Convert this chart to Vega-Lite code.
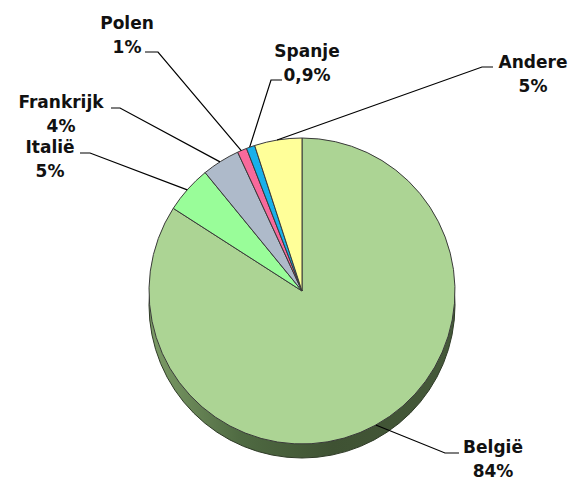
{
  "$schema": "https://vega.github.io/schema/vega-lite/v6.json",
  "width": 582,
  "height": 480,
  "padding": 0,
  "autosize": {"type": "fit", "contains": "padding"},
  "background": "white",
  "config": {"view": {"stroke": null}},
  "datasets": {
    "slices": [
      {"land": "België", "pct": 84, "ord": 1},
      {"land": "Italië", "pct": 5, "ord": 2},
      {"land": "Frankrijk", "pct": 4, "ord": 3},
      {"land": "Polen", "pct": 1, "ord": 4},
      {"land": "Spanje", "pct": 0.9, "ord": 5},
      {"land": "Andere", "pct": 5, "ord": 6}
    ],
    "labels": [
      {"land": "België", "txt": "84%", "x": 1.2484, "y": -1.0588},
      {"land": "Italië", "txt": "5%", "x": -1.6471, "y": 0.902},
      {"land": "Frankrijk", "txt": "4%", "x": -1.5752, "y": 1.1961},
      {"land": "Polen", "txt": "1%", "x": -1.1438, "y": 1.7124},
      {"land": "Spanje", "txt": "0,9%", "x": 0.0327, "y": 1.5294},
      {"land": "Andere", "txt": "5%", "x": 1.5098, "y": 1.4575}
    ],
    "leaders": [
      {"land": "België", "step": 1, "x": 0.482, "y": -0.876},
      {"land": "België", "step": 2, "x": 0.9346, "y": -1.0588},
      {"land": "België", "step": 3, "x": 1.0261, "y": -1.0588},
      {"land": "Italië", "step": 1, "x": -0.75, "y": 0.661},
      {"land": "Italië", "step": 2, "x": -1.3856, "y": 0.902},
      {"land": "Italië", "step": 3, "x": -1.451, "y": 0.902},
      {"land": "Frankrijk", "step": 1, "x": -0.536, "y": 0.844},
      {"land": "Frankrijk", "step": 2, "x": -1.1895, "y": 1.1961},
      {"land": "Frankrijk", "step": 3, "x": -1.2484, "y": 1.1961},
      {"land": "Polen", "step": 1, "x": -0.397, "y": 0.918},
      {"land": "Polen", "step": 2, "x": -0.9412, "y": 1.5621},
      {"land": "Polen", "step": 3, "x": -1.0261, "y": 1.5621},
      {"land": "Spanje", "step": 1, "x": -0.342, "y": 0.94},
      {"land": "Spanje", "step": 2, "x": -0.2026, "y": 1.3791},
      {"land": "Spanje", "step": 3, "x": -0.1307, "y": 1.3791},
      {"land": "Andere", "step": 1, "x": -0.163, "y": 0.987},
      {"land": "Andere", "step": 2, "x": 1.1765, "y": 1.4641},
      {"land": "Andere", "step": 3, "x": 1.2484, "y": 1.4641}
    ]
  },
  "layer": [
    {
      "data": {"values": [{}]},
      "mark": {
        "type": "arc",
        "outerRadius": 153,
        "theta": 0,
        "theta2": 6.2832,
        "yOffset": 14,
        "stroke": "#2e3a26",
        "strokeWidth": 1,
        "fill": {
          "gradient": "linear",
          "x1": 0, "y1": 0, "x2": 1, "y2": 0,
          "stops": [
            {"offset": 0, "color": "#7d9c67"},
            {"offset": 0.3, "color": "#4f6a42"},
            {"offset": 0.6, "color": "#3f5233"},
            {"offset": 1, "color": "#45593a"}
          ]
        }
      },
      "encoding": {
        "x": {"datum": 0, "type": "quantitative", "scale": {"domain": [-1.9739, 1.8301], "nice": false, "zero": false}, "axis": null},
        "y": {"datum": 0, "type": "quantitative", "scale": {"domain": [-1.2353, 1.902], "nice": false, "zero": false}, "axis": null}
      }
    },
    {
      "data": {"name": "slices"},
      "mark": {"type": "arc", "outerRadius": 153, "stroke": "#3a3a3a", "strokeWidth": 1},
      "encoding": {
        "x": {"datum": 0, "type": "quantitative", "scale": {"domain": [-1.9739, 1.8301], "nice": false, "zero": false}, "axis": null},
        "y": {"datum": 0, "type": "quantitative", "scale": {"domain": [-1.2353, 1.902], "nice": false, "zero": false}, "axis": null},
        "theta": {"field": "pct", "type": "quantitative", "stack": true},
        "order": {"field": "ord", "type": "quantitative"},
        "color": {
          "field": "land",
          "type": "nominal",
          "scale": {
            "domain": ["België", "Italië", "Frankrijk", "Polen", "Spanje", "Andere"],
            "range": ["#acd494", "#99fd99", "#aebaca", "#f8699b", "#19b0ea", "#ffff99"]
          },
          "legend": null
        }
      }
    },
    {
      "data": {"name": "leaders"},
      "mark": {"type": "line", "color": "#000000", "strokeWidth": 1.2},
      "encoding": {
        "x": {"field": "x", "type": "quantitative", "scale": {"domain": [-1.9739, 1.8301], "nice": false, "zero": false}, "axis": null},
        "y": {"field": "y", "type": "quantitative", "scale": {"domain": [-1.2353, 1.902], "nice": false, "zero": false}, "axis": null},
        "detail": {"field": "land", "type": "nominal"},
        "order": {"field": "step", "type": "quantitative"}
      }
    },
    {
      "data": {"name": "labels"},
      "mark": {"type": "text", "font": "DejaVu Sans", "fontSize": 17, "fontWeight": "bold", "align": "center", "baseline": "alphabetic", "color": "#111111"},
      "encoding": {
        "x": {"field": "x", "type": "quantitative", "scale": {"domain": [-1.9739, 1.8301], "nice": false, "zero": false}, "axis": null},
        "y": {"field": "y", "type": "quantitative", "scale": {"domain": [-1.2353, 1.902], "nice": false, "zero": false}, "axis": null},
        "text": {"field": "land", "type": "nominal"}
      }
    },
    {
      "data": {"name": "labels"},
      "mark": {"type": "text", "font": "DejaVu Sans", "fontSize": 17, "fontWeight": "bold", "align": "center", "baseline": "alphabetic", "dy": 24, "color": "#111111"},
      "encoding": {
        "x": {"field": "x", "type": "quantitative", "scale": {"domain": [-1.9739, 1.8301], "nice": false, "zero": false}, "axis": null},
        "y": {"field": "y", "type": "quantitative", "scale": {"domain": [-1.2353, 1.902], "nice": false, "zero": false}, "axis": null},
        "text": {"field": "txt", "type": "nominal"}
      }
    }
  ]
}
